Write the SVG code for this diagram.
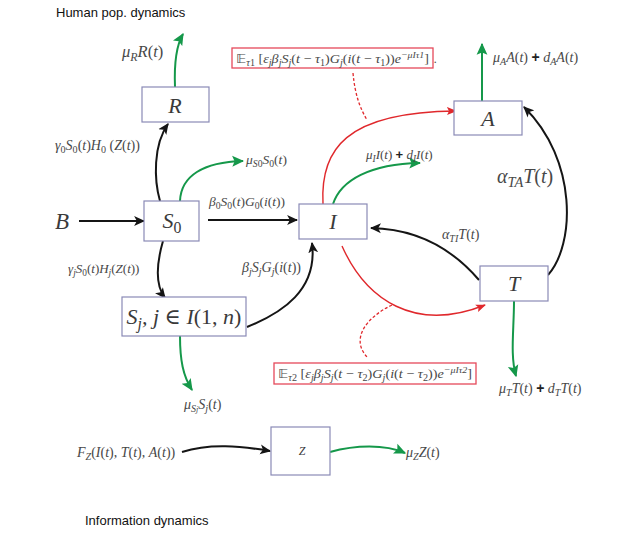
<svg xmlns="http://www.w3.org/2000/svg" width="644" height="540" viewBox="0 0 644 540">
<defs>
<style>
.box{fill:#fff;stroke:#8a8ab6;stroke-width:1.2}
.rbox{fill:#fff;stroke:#e5495a;stroke-width:1.3}
.m{font-family:"Liberation Serif","DejaVu Serif",serif;font-style:italic;fill:#484848}
.n{font-style:normal}
.bl{font-family:"Liberation Serif","DejaVu Serif",serif;font-style:italic;fill:#3a3a3a;text-anchor:middle}
.sb{font-size:72%;baseline-shift:-0.3em}
.sp{font-size:70%;baseline-shift:0.55em}
.pl{font-family:"Liberation Sans",Arial,sans-serif;font-style:normal;font-weight:bold;fill:#222}
.bb{font-family:"DejaVu Sans",sans-serif;font-style:normal}
.hd{font-family:"Liberation Sans",Arial,sans-serif;font-size:13px;fill:#111}
.k{fill:none;stroke:#151515;stroke-width:2}
.g{fill:none;stroke:#15984a;stroke-width:2}
.r{fill:none;stroke:#e0282c;stroke-width:1.4}
.rd{fill:none;stroke:#e0282c;stroke-width:1.3;stroke-dasharray:3 2}
</style>
<marker id="ak" viewBox="0 0 10 10" refX="9" refY="5" markerWidth="11" markerHeight="11" markerUnits="userSpaceOnUse" orient="auto"><path d="M0,0.5 L10,5 L0,9.5 L2.5,5z" fill="#151515"/></marker>
<marker id="ag" viewBox="0 0 10 10" refX="9" refY="5" markerWidth="12" markerHeight="12" markerUnits="userSpaceOnUse" orient="auto"><path d="M0,0.5 L10,5 L0,9.5 L2,5z" fill="#15984a"/></marker>
<marker id="ar" viewBox="0 0 10 10" refX="9" refY="5" markerWidth="10" markerHeight="10" markerUnits="userSpaceOnUse" orient="auto"><path d="M0,1 L10,5 L0,9 L2,5z" fill="#e0282c"/></marker>
</defs>
<rect width="644" height="540" fill="#fff"/>

<text class="hd" x="56" y="17">Human pop. dynamics</text>
<text class="hd" x="85" y="525">Information dynamics</text>

<g id="connectors">
<path class="k" d="M79,221 L144,221" marker-end="url(#ak)"/>
<path class="k" d="M208,220 L297,220" marker-end="url(#ak)"/>
<path class="k" d="M160,201 C154,180 153,145 168,124" marker-end="url(#ak)"/>
<path class="k" d="M163,241 C157,262 155,285 165,298" marker-end="url(#ak)"/>
<path class="k" d="M247,327 C282,313 318,290 312,243" marker-end="url(#ak)"/>
<path class="k" d="M548,275 C575,245 578,160 524,107" marker-end="url(#ak)"/>
<path class="k" d="M479,280 C455,252 420,229 371,228" marker-end="url(#ak)"/>
<path class="k" d="M182,452 C210,443 240,446 270,451" marker-end="url(#ak)"/>
<path class="g" d="M175,87 C174,62 176,46 183,34" marker-end="url(#ag)"/>
<path class="g" d="M180,201 C181,176 203,162 243,161" marker-end="url(#ag)"/>
<path class="g" d="M180,336 C180,360 183,376 192,390" marker-end="url(#ag)"/>
<path class="g" d="M333,204 C341,180 370,164 420,163" marker-end="url(#ag)"/>
<path class="g" d="M482,101 L482,44" marker-end="url(#ag)"/>
<path class="g" d="M514,301 C514,330 510,355 516,376" marker-end="url(#ag)"/>
<path class="g" d="M330,452 C355,445 385,444 405,453" marker-end="url(#ag)"/>
<path class="r" d="M323,204 C320,150 345,112 456,111" marker-end="url(#ar)"/>
<path class="r" d="M342,246 C366,300 415,333 485,305" marker-end="url(#ar)"/>
<path class="rd" d="M353,73 C355,95 360,108 367,120"/>
<path class="rd" d="M392,305 C365,318 350,340 368,358"/>
</g>

<g id="node-R"><rect class="box" x="142" y="87" width="67" height="35"/><text class="bl" x="175" y="113" font-size="22">R</text></g>
<g id="node-S0"><rect class="box" x="144" y="201" width="55" height="40"/><text class="bl" x="172" y="228" font-size="22">S<tspan class="sb n">0</tspan></text></g>
<g id="node-I"><rect class="box" x="299" y="204" width="68" height="35"/><text class="bl" x="333" y="229" font-size="22">I</text></g>
<g id="node-Sj"><rect class="box" x="122" y="297" width="124" height="39"/><text class="bl" x="184" y="324" font-size="22">S<tspan class="sb">j</tspan>, j ∈ I<tspan class="n">(1, </tspan>n<tspan class="n">)</tspan></text></g>
<g id="node-A"><rect class="box" x="454" y="101" width="68" height="34"/><text class="bl" x="488" y="126" font-size="22">A</text></g>
<g id="node-T"><rect class="box" x="480" y="266" width="68" height="35"/><text class="bl" x="514" y="291" font-size="22">T</text></g>
<g id="node-Z"><rect class="box" x="271" y="427" width="59" height="48"/><text class="bl" x="302" y="455" font-size="12">Z</text></g>
<g id="node-B"><text class="bl" x="62" y="229" font-size="23">B</text></g>

<g id="labels">
<text class="m" x="122" y="57" font-size="16.5">μ<tspan class="sb">R</tspan>R<tspan class="n">(</tspan>t<tspan class="n">)</tspan></text>
<text class="m" x="55" y="150" font-size="14">γ<tspan class="sb n">0</tspan>S<tspan class="sb n">0</tspan><tspan class="n">(</tspan>t<tspan class="n">)</tspan>H<tspan class="sb n">0</tspan><tspan class="n"> (</tspan>Z<tspan class="n">(</tspan>t<tspan class="n">))</tspan></text>
<text class="m" x="246" y="164" font-size="13.5">μ<tspan class="sb">S<tspan class="n">0</tspan></tspan>S<tspan class="sb n">0</tspan><tspan class="n">(</tspan>t<tspan class="n">)</tspan></text>
<text class="m" x="209" y="206" font-size="13.5">β<tspan class="sb n">0</tspan>S<tspan class="sb n">0</tspan><tspan class="n">(</tspan>t<tspan class="n">)</tspan>G<tspan class="sb n">0</tspan><tspan class="n">(</tspan>i<tspan class="n">(</tspan>t<tspan class="n">))</tspan></text>
<text class="m" x="68" y="273" font-size="13">γ<tspan class="sb">j</tspan>S<tspan class="sb n">0</tspan><tspan class="n">(</tspan>t<tspan class="n">)</tspan>H<tspan class="sb">j</tspan><tspan class="n">(</tspan>Z<tspan class="n">(</tspan>t<tspan class="n">))</tspan></text>
<text class="m" x="242" y="272" font-size="14">β<tspan class="sb">j</tspan>S<tspan class="sb">j</tspan>G<tspan class="sb">j</tspan><tspan class="n">(</tspan>i<tspan class="n">(</tspan>t<tspan class="n">))</tspan></text>
<text class="m" x="184" y="409" font-size="14">μ<tspan class="sb">S<tspan font-size="80%">j</tspan></tspan>S<tspan class="sb">j</tspan><tspan class="n">(</tspan>t<tspan class="n">)</tspan></text>
<text class="m" x="366" y="159" font-size="13">μ<tspan class="sb">I</tspan>I<tspan class="n">(</tspan>t<tspan class="n">) </tspan><tspan class="pl">+</tspan> d<tspan class="sb">I</tspan>I<tspan class="n">(</tspan>t<tspan class="n">)</tspan></text>
<text class="m" x="493" y="62" font-size="14">μ<tspan class="sb">A</tspan>A<tspan class="n">(</tspan>t<tspan class="n">) </tspan><tspan class="pl">+</tspan> d<tspan class="sb">A</tspan>A<tspan class="n">(</tspan>t<tspan class="n">)</tspan></text>
<text class="m" x="497" y="183" font-size="20">α<tspan class="sb">TA</tspan>T<tspan class="n">(</tspan>t<tspan class="n">)</tspan></text>
<text class="m" x="442" y="239" font-size="14">α<tspan class="sb">TI</tspan>T<tspan class="n">(</tspan>t<tspan class="n">)</tspan></text>
<text class="m" x="499" y="393" font-size="14">μ<tspan class="sb">T</tspan>T<tspan class="n">(</tspan>t<tspan class="n">) </tspan><tspan class="pl">+</tspan> d<tspan class="sb">T</tspan>T<tspan class="n">(</tspan>t<tspan class="n">)</tspan></text>
<text class="m" x="77" y="457" font-size="14">F<tspan class="sb">Z</tspan><tspan class="n">(</tspan>I<tspan class="n">(</tspan>t<tspan class="n">), </tspan>T<tspan class="n">(</tspan>t<tspan class="n">), </tspan>A<tspan class="n">(</tspan>t<tspan class="n">))</tspan></text>
<text class="m" x="406" y="457" font-size="14">μ<tspan class="sb">Z</tspan>Z<tspan class="n">(</tspan>t<tspan class="n">)</tspan></text>
</g>

<g id="node-E1">
<rect class="rbox" x="232" y="48" width="201" height="20"/>
<text class="m" x="236" y="63" font-size="13" textLength="193" lengthAdjust="spacingAndGlyphs"><tspan class="bb">𝔼</tspan><tspan class="sb">τ<tspan class="n">1</tspan></tspan><tspan class="n"> [</tspan>ε<tspan class="sb">j</tspan>β<tspan class="sb">j</tspan>S<tspan class="sb">j</tspan><tspan class="n">(</tspan>t<tspan class="n"> − </tspan>τ<tspan class="sb n">1</tspan><tspan class="n">)</tspan>G<tspan class="sb">j</tspan><tspan class="n">(</tspan>i<tspan class="n">(</tspan>t<tspan class="n"> − </tspan>τ<tspan class="sb n">1</tspan><tspan class="n">))</tspan>e<tspan class="sp">−μIτ1</tspan><tspan class="n">]</tspan></text>
<text class="m" x="434" y="63" font-size="12">.</text>
</g>
<g id="node-E2">
<rect class="rbox" x="274" y="363" width="202" height="21"/>
<text class="m" x="278" y="378" font-size="13" textLength="194" lengthAdjust="spacingAndGlyphs"><tspan class="bb">𝔼</tspan><tspan class="sb">τ<tspan class="n">2</tspan></tspan><tspan class="n"> [</tspan>ε<tspan class="sb">j</tspan>β<tspan class="sb">j</tspan>S<tspan class="sb">j</tspan><tspan class="n">(</tspan>t<tspan class="n"> − </tspan>τ<tspan class="sb n">2</tspan><tspan class="n">)</tspan>G<tspan class="sb">j</tspan><tspan class="n">(</tspan>i<tspan class="n">(</tspan>t<tspan class="n"> − </tspan>τ<tspan class="sb n">2</tspan><tspan class="n">))</tspan>e<tspan class="sp">−μIτ2</tspan><tspan class="n">]</tspan></text>
</g>
</svg>
